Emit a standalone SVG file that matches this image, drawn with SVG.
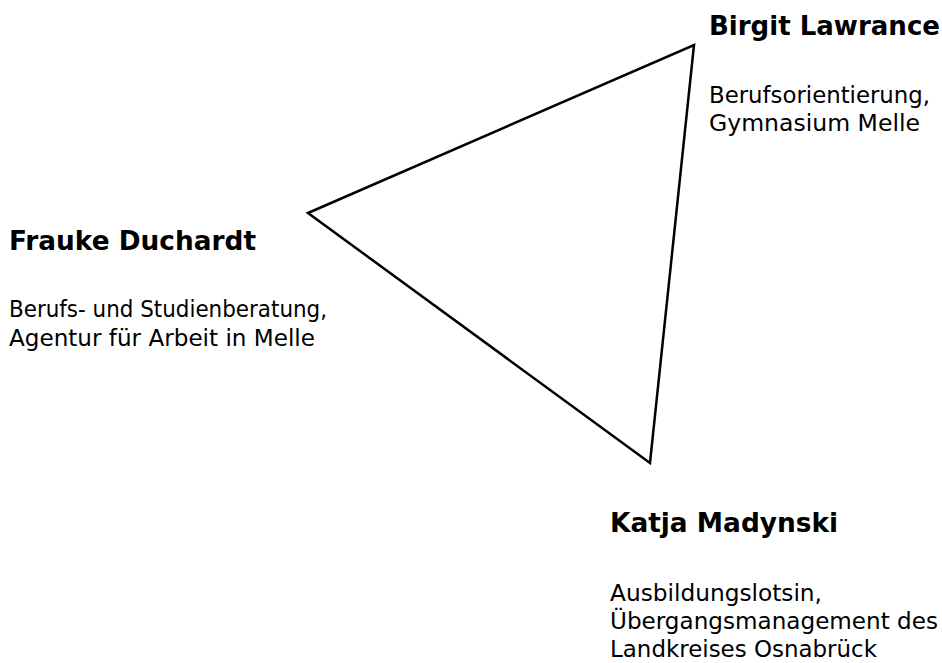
<svg xmlns="http://www.w3.org/2000/svg" width="942" height="663" viewBox="0 0 942 663">
<style>
.t{font-family:"DejaVu Sans",Verdana,sans-serif;font-weight:bold;font-size:26px;fill:#000}
.b{font-family:"DejaVu Sans",Verdana,sans-serif;font-size:23px;fill:#000}
</style>
<rect width="942" height="663" fill="#fff"/>
<g id="connectors">
<polygon points="308,213 694,45 650,463" fill="none" stroke="#000" stroke-width="2.5" stroke-linejoin="miter"/>
</g>
<g id="birgit">
<text class="t" x="709" y="35" textLength="231" lengthAdjust="spacingAndGlyphs">Birgit Lawrance</text>
<text class="b" x="709" y="103" textLength="221" lengthAdjust="spacingAndGlyphs">Berufsorientierung,</text>
<text class="b" x="709" y="131" textLength="211" lengthAdjust="spacingAndGlyphs">Gymnasium Melle</text>
</g>
<g id="frauke">
<text class="t" x="9" y="250" textLength="247" lengthAdjust="spacingAndGlyphs">Frauke Duchardt</text>
<text class="b" x="9" y="317" textLength="318" lengthAdjust="spacingAndGlyphs">Berufs- und Studienberatung,</text>
<text class="b" x="9" y="346" textLength="306" lengthAdjust="spacingAndGlyphs">Agentur für Arbeit in Melle</text>
</g>
<g id="katja">
<text class="t" x="610" y="532" textLength="228" lengthAdjust="spacingAndGlyphs">Katja Madynski</text>
<text class="b" x="610" y="601" textLength="212" lengthAdjust="spacingAndGlyphs">Ausbildungslotsin,</text>
<text class="b" x="610" y="629" textLength="328" lengthAdjust="spacingAndGlyphs">Übergangsmanagement des</text>
<text class="b" x="610" y="657" textLength="267" lengthAdjust="spacingAndGlyphs">Landkreises Osnabrück</text>
</g>
</svg>
